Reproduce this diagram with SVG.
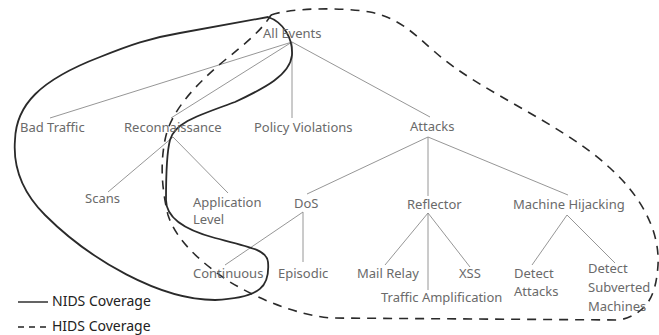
<svg xmlns="http://www.w3.org/2000/svg" width="659" height="335" viewBox="0 0 659 335">
<style>
.t{font-family:"Noto Sans","DejaVu Sans",sans-serif;font-size:13px;fill:#6a6a6a}
.lg{font-family:"Noto Sans","DejaVu Sans",sans-serif;font-size:14px;fill:#222}
.e{stroke:#8a8a8a;stroke-width:0.9;fill:none}
.nids{stroke:#2a2a2a;stroke-width:1.8;fill:none}
.hids{stroke:#2a2a2a;stroke-width:1.6;fill:none;stroke-dasharray:9 7}
</style>
<rect width="659" height="335" fill="#fff"/>
<g id="connectors">
<path class="e" d="M292,42 L50,118 M292,42 L171,118 M292,42 L292,118 M292,42 L430,117"/>
<path class="e" d="M173,137 L108,192 M173,137 L228,193"/>
<path class="e" d="M428,137 L307,194 M428,137 L428,196 M428,137 L568,195"/>
<path class="e" d="M303,212 L225,265 M303,212 L303,262"/>
<path class="e" d="M428,213 L385,265 M428,213 L428,290 M428,213 L470,267"/>
<path class="e" d="M567,215 L532,265 M567,215 L615,263"/>
</g>
<g id="coverage">
<path id="nids" class="nids" d="M268,17 C283,22 293,38 292,55 C290,75 265,88 235,102 C200,115 175,122 170,140 C166,155 166,180 166,200 C166,218 185,230 215,238 C250,247 267,250 268,262 C270,285 262,298 215,300 C160,300 90,260 45,215 C20,190 13,165 15,140 C16,105 40,80 100,57 C130,45 150,38 180,33 C220,26 250,20 268,17 Z"/>
<path id="hids" class="hids" d="M271,15 C290,8 340,7 370,12 C400,18 415,35 435,52 C480,92 560,122 610,168 C640,195 660,230 658,265 C656,295 648,313 620,320 L330,318 C295,314 260,300 230,282 C200,262 176,240 168,215 C162,190 160,165 165,140 C170,112 195,85 225,60 C245,44 262,30 271,15"/>
</g>
<g id="n-all"><text class="t" x="263" y="38">All Events</text></g>
<g id="n-bad"><text class="t" x="20" y="132">Bad Traffic</text></g>
<g id="n-recon"><text class="t" x="124" y="132">Reconnaissance</text></g>
<g id="n-policy"><text class="t" x="254" y="132">Policy Violations</text></g>
<g id="n-attacks"><text class="t" x="410" y="131">Attacks</text></g>
<g id="n-scans"><text class="t" x="85" y="203">Scans</text></g>
<g id="n-app"><text class="t" x="193" y="207">Application</text><text class="t" x="193" y="224">Level</text></g>
<g id="n-dos"><text class="t" x="294" y="208">DoS</text></g>
<g id="n-reflector"><text class="t" x="407" y="209">Reflector</text></g>
<g id="n-hijack"><text class="t" x="513" y="209">Machine Hijacking</text></g>
<g id="n-cont"><text class="t" x="193" y="278">Continuous</text></g>
<g id="n-epi"><text class="t" x="278" y="278">Episodic</text></g>
<g id="n-mail"><text class="t" x="357" y="278">Mail Relay</text></g>
<g id="n-xss"><text class="t" x="459" y="278">XSS</text></g>
<g id="n-amp"><text class="t" x="381" y="302">Traffic Amplification</text></g>
<g id="n-detatt"><text class="t" x="514" y="278">Detect</text><text class="t" x="514" y="296">Attacks</text></g>
<g id="n-detsub"><text class="t" x="588" y="273">Detect</text><text class="t" x="588" y="292">Subverted</text><text class="t" x="588" y="311">Machines</text></g>
<g id="legend">
<line x1="18" y1="302" x2="48" y2="302" stroke="#222" stroke-width="1.4"/>
<text class="lg" x="52" y="306">NIDS Coverage</text>
<line x1="18" y1="327" x2="48" y2="327" stroke="#222" stroke-width="1.4" stroke-dasharray="6 5"/>
<text class="lg" x="52" y="331">HIDS Coverage</text>
</g>
</svg>
